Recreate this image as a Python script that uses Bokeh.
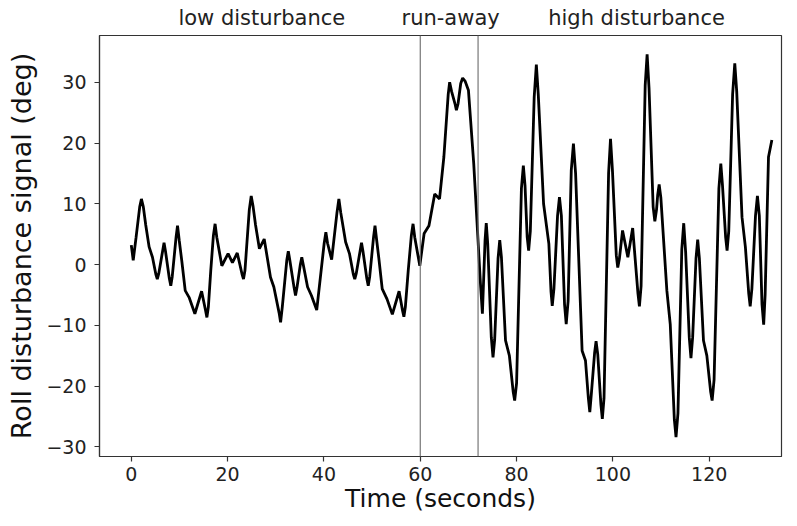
from bokeh.plotting import figure
from bokeh.models import Range1d, Span, FixedTicker, LinearAxis
from bokeh.embed import file_html
from bokeh.resources import INLINE

# main extrema / turning points (seconds, degrees)
time_s = [0.0, 0.4, 1.0, 2.1, 3.0, 3.7, 4.4, 5.4, 6.8, 8.2, 9.6, 10.5, 11.2, 12.0, 13.2, 14.6,
          15.7, 16.5, 17.4, 18.8, 20.1, 21.0, 22.0, 23.3, 24.9, 25.8, 26.6, 27.6, 28.9, 29.6,
          31.0, 32.6, 34.1, 35.4, 36.6, 37.4, 38.5, 40.4, 41.6, 43.1, 44.5, 45.3, 46.4, 47.8,
          49.2, 50.6, 51.4, 52.1, 53.1, 54.2, 55.6, 56.6, 57.5, 58.5, 59.9, 60.8, 61.8, 63.0,
          64.0, 64.9, 66.1, 67.5, 68.8, 70.0, 71.1, 72.5, 72.9, 73.7, 75.1, 76.5, 77.7, 78.5,
          79.6, 81.4, 82.5, 84.1, 85.6, 86.7, 87.4, 88.9, 90.3, 91.8, 93.6, 94.3, 95.2, 96.5,
          97.8, 99.5, 101.0, 102.0, 103.1, 104.1, 105.5, 107.1, 108.7, 109.6, 111.2, 111.9,
          113.1, 114.7, 116.2, 117.6, 118.8, 119.5, 120.6, 122.4, 123.7, 125.3, 126.8, 127.5,
          128.5, 130.0, 131.3, 132.3, 133.0]
roll_deg = [3.2, 0.7, 4.5, 10.8, 6.5, 2.9, 1.2, -2.4, 3.6, -3.5, 6.4, 0.5, -4.3, -5.4, -8.1, -4.4,
            -8.7, -1.0, 6.7, -0.2, 1.8, 0.3, 1.9, -2.4, 11.3, 6.5, 2.6, 4.2, -2.1, -3.7,
            -9.5, 2.2, -5.1, 1.2, -3.7, -5.1, -7.5, 5.3, 0.8, 10.8, 3.7, 1.8, -2.4, 3.6,
            -3.5, 6.4, 1.0, -4.0, -5.7, -8.2, -4.4, -8.6, -1.0, 6.7, -0.2, 5.1, 6.4, 11.6,
            10.8, 17.7, 30.0, 25.4, 30.7, 28.7, 16.6, -3.2, -8.1, 6.8, -15.3, 4.0, -12.5, -15.0,
            -22.4, 16.3, 2.3, 32.9, 10.0, 3.4, -6.8, 11.1, -9.8, 19.9, -14.2, -15.8, -24.3, -12.6,
            -25.4, 20.7, -0.5, 5.6, 1.2, 6.0, -6.9, 34.6, 7.1, 13.2, -4.3, -9.8,
            -28.4, 6.8, -15.4, 4.1, -12.5, -15.0, -22.4, 16.6, 2.3, 33.1, 7.8, 2.9,
            -6.9, 11.3, -9.9, 17.7, 20.5]

# extra points read near the rounded tips of the peaks and troughs
tip_time_s = [1.75, 2.5, 5.1, 5.7, 6.5, 7.1, 7.9, 8.5, 9.3, 9.95, 15.4, 16.0, 17.05, 17.75,
              23.0, 23.6, 24.5, 25.3, 30.7, 31.35, 32.3, 32.9, 33.8, 34.4, 35.1, 35.7,
              40.05, 40.75, 42.7, 43.5, 46.1, 46.7, 47.5, 48.1, 48.9, 49.5, 50.3, 50.95,
              56.3, 56.9, 58.15, 58.85,
              65.8, 66.5, 67.2, 67.85, 68.4, 69.3,
              73.45, 74.0, 74.75, 75.45, 76.15, 76.85, 79.3, 80.0, 81.0, 81.75, 82.2, 82.85,
              83.65, 84.5, 87.15, 87.75, 88.5, 89.3, 89.95, 90.7, 91.35, 92.25, 94.9, 95.55,
              96.2, 96.85, 97.5, 98.15, 99.1, 99.9, 100.7, 101.35, 105.2, 105.85, 106.7, 107.5,
              108.35, 109.05, 109.3, 109.95, 112.75, 113.5, 114.3, 115.1, 115.85, 116.55,
              117.25, 117.95, 120.3, 121.0, 122.0, 122.75, 123.4, 124.05, 124.85, 125.7,
              128.2, 128.85, 129.6, 130.4, 130.95, 131.6]
tip_roll_deg = [9.5, 9.5, -1.6, -1.5, 2.2, 2.2, -2.3, -2.0, 4.5, 4.0, -7.5, -7.0, 4.8, 4.5,
                -1.6, -1.0, 9.0, 9.5, -8.0, -7.0, 0.8, 0.8, -3.8, -3.8, 0.0, 0.0,
                3.5, 3.5, 8.5, 8.5, -1.6, -1.5, 2.2, 2.2, -2.3, -2.0, 4.5, 4.0,
                -7.5, -7.0, 4.8, 4.5,
                28.0, 28.5, 26.5, 26.5, 29.8, 30.2,
                4.0, 3.5, -12.0, -12.3, 1.0, 1.2, -21.0, -19.5, 12.5, 13.0, 4.5, 5.5,
                27.5, 28.0, -4.5, -4.0, 8.0, 8.0, -6.5, -6.0, 15.5, 15.0, -22.0, -21.0,
                -14.5, -14.8, -23.0, -22.0, 15.0, 15.5, 1.5, 1.0, -4.8, -3.5, 29.5, 29.0,
                9.5, 9.0, 11.5, 11.0, -25.5, -24.5, 2.5, 2.0, -12.0, -12.0,
                1.0, 1.0, -21.0, -19.0, 12.5, 13.0, 4.5, 5.5, 28.0, 28.5,
                -4.8, -4.0, 8.0, 8.0, -6.5, -5.0]

phase_bounds = [60, 72]
phase_names = ["low disturbance", "run-away", "high disturbance"]
phase_centers = [27.1, 66.3, 104.9]

x_ticks = [0, 20, 40, 60, 80, 100, 120]
y_ticks = [-30, -20, -10, 0, 10, 20, 30]

pts = sorted(zip(time_s + tip_time_s, roll_deg + tip_roll_deg))
line_t = [a for a, b in pts]
line_y = [b for a, b in pts]

FONT = "DejaVu Sans"

p = figure(width=789, height=518, output_backend="svg", toolbar_location=None,
           x_range=Range1d(-6.6, 135), y_range=Range1d(-31.6, 37.7),
           min_border_left=99, min_border_right=8, min_border_top=35, min_border_bottom=62)

p.line(line_t, line_y, line_color="black", line_width=2.8)

for b in phase_bounds:
    p.add_layout(Span(location=b, dimension="height", line_color="#777777", line_width=1.2))

bottom_axis = p.below[0]
left_axis = p.left[0]

top_axis = LinearAxis(ticker=FixedTicker(ticks=phase_centers),
                      major_label_overrides={c: n for c, n in zip(phase_centers, phase_names)})
top_axis.axis_line_color = None
top_axis.major_tick_line_color = None
top_axis.minor_tick_line_color = None
top_axis.major_tick_out = 0
top_axis.major_tick_in = 0
top_axis.major_label_standoff = 6
top_axis.major_label_text_font = FONT
top_axis.major_label_text_font_size = "21px"
top_axis.major_label_text_color = "#222222"
p.add_layout(top_axis, "above")

p.xgrid.visible = False
p.ygrid.visible = False
p.outline_line_color = "#333333"
p.outline_line_width = 1.2

bottom_axis.ticker = FixedTicker(ticks=x_ticks)
left_axis.ticker = FixedTicker(ticks=y_ticks)
for ax in (bottom_axis, left_axis):
    ax.axis_line_color = "#333333"
    ax.axis_line_width = 1.2
    ax.major_tick_out = 5
    ax.major_tick_in = 0
    ax.major_tick_line_color = "#333333"
    ax.major_tick_line_width = 1.2
    ax.minor_tick_line_color = None
    ax.major_label_text_font = FONT
    ax.major_label_text_font_size = "19px"
    ax.major_label_text_color = "#222222"
    ax.axis_label_text_font = FONT
    ax.axis_label_text_font_style = "normal"
    ax.axis_label_text_color = "#111111"

bottom_axis.axis_label_text_font_size = "25px"
left_axis.axis_label_text_font_size = "27px"
bottom_axis.axis_label = "Time (seconds)"
left_axis.axis_label = "Roll disturbance signal (deg)"
bottom_axis.major_label_standoff = 5
left_axis.major_label_standoff = 8
bottom_axis.axis_label_standoff = 0
left_axis.axis_label_standoff = 6

open("out.html", "w").write(file_html(p, INLINE))
